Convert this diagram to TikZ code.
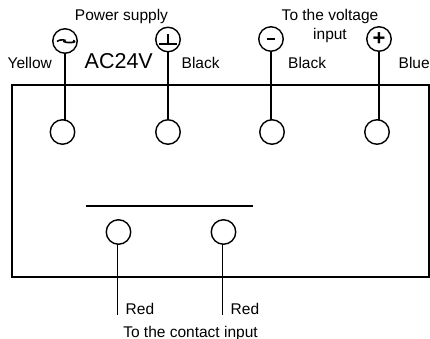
\documentclass[tikz,border=0pt]{standalone}
\usepackage{fontspec}
\setmainfont{Liberation Sans}
\usetikzlibrary{arrows}
\tikzset{main node/.style={circle,draw,minimum size=24.5pt,inner sep=0pt,outer sep=0pt},
	lab/.style={font=\fontsize{15.5}{18}\selectfont,inner sep=0pt},
}
\begin{document}
\begin{tikzpicture}[x=1pt,y=-1pt,line width=1.4pt]
		\useasboundingbox (0,0) rectangle (430,339);
		
		\node[draw,minimum width=417,minimum height=192,outer sep=0pt] (box) at (220.5,181) {};
		
		\node[main node] (ac) at (65,41) {};
		\node[main node] (gnd) at (168,39.5) {};
		\node[main node] (minus) at (271,39) {};
		\node[main node,font=\fontsize{22}{22}\selectfont\bfseries] (plus) at (379,39) {+};
		
		\node[main node] (t1) at (62.5,132) {};
		\node[main node] (t2) at (168,132) {};
		\node[main node] (t3) at (272,132) {};
		\node[main node] (t4) at (377,132) {};
		\node[main node] (t5) at (118.5,232) {};
		\node[main node] (t6) at (223.5,232) {};
		
		\coordinate (red1) at (117.5,315);
		\coordinate (red2) at (222.5,315);
		\coordinate (barl) at (86,206);
		\coordinate (barr) at (253,206);
		
		\draw (ac.south) -- (ac.south |- t1.north);
		\draw (gnd) ++(0,12.2) -- (gnd.south |- t2.north);
		\draw (minus.south) -- (minus.south |- t3.north);
		\draw (plus.south) -- (plus.south |- t4.north);
		\draw (red1 |- t5.south) -- (red1);
		\draw (red2 |- t6.south) -- (red2);
		\draw (barl) -- (barr);
		
		% symbols
		\draw (gnd) ++(0,-5) -- ++(0,9.5) ++(-9,0) -- ++(18,0);
		\draw[line width=1.6pt] (ac) ++(-8,0.5) .. controls +(2,-2.5) and +(4,-2) .. ++(7,0)
			.. controls +(3,2) and +(6,2) .. ++(9,-1);
		\draw[line width=2.4pt] (minus) ++(-3.8,0) -- ++(7.6,0);
		
		\node[lab] (psup) at (121.5,16.5) {Power supply};
		\node[lab] (vin) at (330,16.5) {To the voltage};
		\node[lab] (vin2) at (330,35) {input};
		\node[lab,anchor=west] (yel) at (7,62.5) {Yellow};
		\node[lab,anchor=west,font=\fontsize{21.5}{24}\selectfont] (acv) at (84,61.5) {AC24V};
		\node[lab,anchor=west] (blk1) at (181,62.5) {Black};
		\node[lab,anchor=west] (blk2) at (287.5,62.5) {Black};
		\node[lab,anchor=west] (blu) at (398,62.5) {Blue};
		\node[lab,anchor=west] (red) at (125,308.5) {Red};
		\node[lab,anchor=west] (redb) at (230,308.5) {Red};
		\node[lab] (cin) at (190.5,333) {To the contact input};
\end{tikzpicture}
\end{document}
